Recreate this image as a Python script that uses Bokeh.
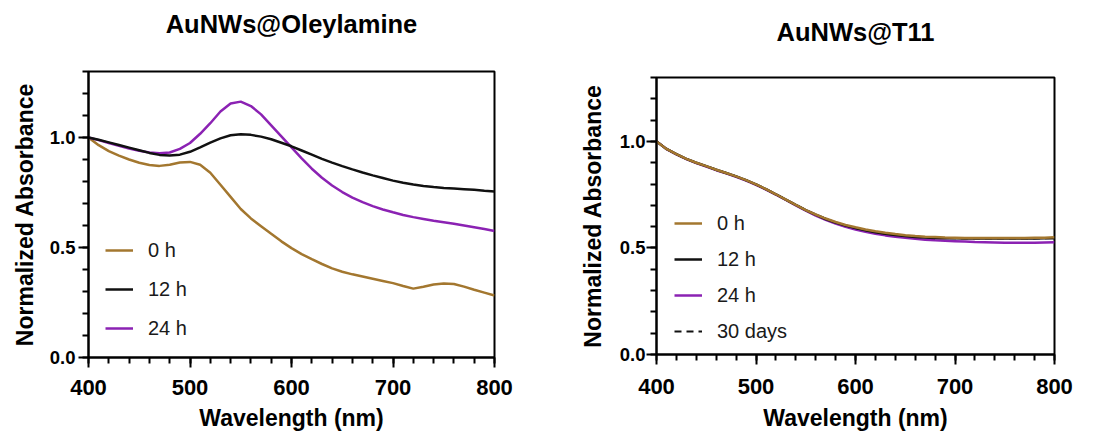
from bokeh.plotting import figure
from bokeh.layouts import row, column
from bokeh.models import (Legend, LegendItem, Range1d, FixedTicker, PrintfTickFormatter,
                          Title, LinearAxis)
from bokeh.embed import file_html
from bokeh.resources import INLINE

FONT = "Liberation Sans"
BROWN = "#A3772F"
PURPLE = "#8B22B3"
BLACK = "#111111"

# ---------------- data ----------------
wavelength = list(range(400, 801, 10))

# AuNWs@Oleylamine
ole_0h = [1.000, 0.965, 0.938, 0.918, 0.900, 0.885, 0.875, 0.871, 0.876, 0.886,
          0.889, 0.876, 0.840, 0.785, 0.730, 0.675, 0.632, 0.597, 0.562, 0.528,
          0.497, 0.470, 0.447, 0.425, 0.405, 0.390, 0.378, 0.368, 0.358, 0.348,
          0.338, 0.325, 0.313, 0.322, 0.332, 0.336, 0.334, 0.322, 0.308, 0.295,
          0.282]
ole_12h = [1.000, 0.990, 0.978, 0.966, 0.954, 0.942, 0.930, 0.921, 0.918, 0.922,
           0.935, 0.955, 0.977, 0.996, 1.010, 1.015, 1.012, 1.004, 0.992, 0.976,
           0.960, 0.941, 0.922, 0.903, 0.886, 0.870, 0.855, 0.841, 0.828, 0.816,
           0.804, 0.794, 0.786, 0.780, 0.775, 0.771, 0.768, 0.765, 0.762, 0.758,
           0.755]
ole_24h = [1.000, 0.988, 0.975, 0.962, 0.950, 0.940, 0.932, 0.928, 0.932, 0.948,
           0.975, 1.017, 1.065, 1.118, 1.155, 1.163, 1.143, 1.105, 1.055, 1.005,
           0.955, 0.905, 0.858, 0.817, 0.782, 0.752, 0.727, 0.706, 0.688, 0.673,
           0.660, 0.648, 0.638, 0.630, 0.622, 0.615, 0.608, 0.600, 0.592, 0.584,
           0.575]

# AuNWs@T11
t11_0h = [1.000, 0.965, 0.940, 0.918, 0.900, 0.884, 0.867, 0.852, 0.836, 0.818,
          0.798, 0.776, 0.752, 0.727, 0.702, 0.678, 0.657, 0.638, 0.622, 0.608,
          0.597, 0.587, 0.578, 0.571, 0.565, 0.560, 0.556, 0.553, 0.551, 0.549,
          0.548, 0.547, 0.547, 0.547, 0.547, 0.547, 0.547, 0.547, 0.548, 0.548,
          0.550]
t11_12h = [1.000, 0.965, 0.940, 0.918, 0.900, 0.884, 0.867, 0.852, 0.836, 0.818,
           0.798, 0.776, 0.752, 0.727, 0.702, 0.678, 0.656, 0.636, 0.619, 0.605,
           0.593, 0.583, 0.574, 0.567, 0.561, 0.556, 0.552, 0.549, 0.547, 0.546,
           0.545, 0.544, 0.544, 0.544, 0.544, 0.544, 0.544, 0.544, 0.544, 0.545,
           0.546]
t11_24h = [1.000, 0.964, 0.939, 0.917, 0.898, 0.882, 0.865, 0.850, 0.834, 0.816,
           0.796, 0.774, 0.750, 0.725, 0.700, 0.675, 0.652, 0.632, 0.614, 0.599,
           0.587, 0.576, 0.567, 0.559, 0.553, 0.548, 0.543, 0.539, 0.536, 0.534,
           0.532, 0.530, 0.528, 0.527, 0.526, 0.525, 0.525, 0.525, 0.525, 0.526,
           0.527]
t11_30d = [1.000, 0.965, 0.940, 0.918, 0.900, 0.884, 0.867, 0.852, 0.836, 0.818,
           0.798, 0.776, 0.752, 0.727, 0.702, 0.678, 0.656, 0.637, 0.620, 0.606,
           0.594, 0.584, 0.575, 0.568, 0.562, 0.557, 0.553, 0.550, 0.548, 0.547,
           0.546, 0.545, 0.545, 0.545, 0.545, 0.545, 0.545, 0.545, 0.545, 0.546,
           0.547]

x_major_ticks = [400, 500, 600, 700, 800]
x_minor_ticks = list(range(400, 801, 20))
y_major_ticks = [0.0, 0.5, 1.0]
y_minor_ticks = [0.0, 0.1, 0.2, 0.3, 0.4, 0.5, 0.6, 0.7, 0.8, 0.9, 1.0, 1.1, 1.2, 1.3]


def make_fig(title, width, height, mbl, mbr, mbt, mbb, title_gap, title_std,
             x_std, x_lab_std, y_std, y_lab_std):
    p = figure(width=width, height=height, output_backend="svg", toolbar_location=None,
               title=None,
               x_range=Range1d(400, 800), y_range=Range1d(0, 1.3),
               min_border_left=mbl, min_border_right=mbr,
               min_border_top=mbt, min_border_bottom=mbb)
    p.xgrid.visible = False
    p.ygrid.visible = False
    p.outline_line_color = "black"
    p.outline_line_width = 2
    p.outline_line_alpha = 1
    p.background_fill_color = "white"
    p.border_fill_color = "white"

    xa = p.below[0]
    ya = p.left[0]
    xa.ticker = FixedTicker(ticks=x_major_ticks, minor_ticks=x_minor_ticks)
    ya.ticker = FixedTicker(ticks=y_major_ticks, minor_ticks=y_minor_ticks)
    ya.formatter = PrintfTickFormatter(format="%.1f")
    xa.axis_label = "Wavelength (nm)"
    ya.axis_label = "Normalized Absorbance"
    for ax in (xa, ya):
        ax.axis_line_width = 2
        ax.axis_line_color = "black"
        ax.major_tick_line_width = 2
        ax.minor_tick_line_width = 2
        ax.major_tick_line_color = "black"
        ax.minor_tick_line_color = "black"
        ax.major_tick_out = 10
        ax.major_tick_in = 0
        ax.minor_tick_out = 6
        ax.minor_tick_in = 0
        ax.major_label_text_font = FONT
        ax.major_label_text_font_style = "bold"
        ax.major_label_text_color = "black"
        ax.axis_label_text_font = FONT
        ax.axis_label_text_font_style = "bold"
        ax.axis_label_text_font_size = "23px"
        ax.axis_label_text_color = "black"
    xa.major_label_text_font_size = "22px"
    ya.major_label_text_font_size = "18.5px"
    xa.major_label_standoff = x_std
    xa.axis_label_standoff = x_lab_std
    ya.major_label_standoff = y_std
    ya.axis_label_standoff = y_lab_std

    # invisible spacer between frame and title: ticks with no colour, empty labels
    spacer = LinearAxis(ticker=FixedTicker(ticks=x_major_ticks, minor_ticks=[]),
                        major_label_overrides={t: "" for t in x_major_ticks},
                        major_label_text_font_size="0px",
                        major_tick_out=title_gap, major_tick_in=0,
                        minor_tick_out=0, minor_tick_in=0,
                        major_label_standoff=0,
                        axis_line_color=None, major_tick_line_color=None,
                        minor_tick_line_color=None)
    p.add_layout(spacer, "above")
    t = Title(text=title, text_font=FONT, text_font_size="25.5px",
              text_font_style="bold", text_color="black", align="center",
              vertical_align="bottom", standoff=title_std)
    p.add_layout(t, "above")
    return p


def style_legend(leg, spacing):
    leg.label_text_font = FONT
    leg.label_text_font_size = "20px"
    leg.label_text_color = "#1a1a1a"
    leg.glyph_width = 28
    leg.glyph_height = 24
    leg.label_height = 24
    leg.label_standoff = 15
    leg.spacing = spacing
    leg.padding = 0
    leg.margin = 0
    leg.border_line_alpha = 0
    leg.background_fill_alpha = 0


# left figure: frame 406 x 286 at (88, 71)
p1 = make_fig("AuNWs@Oleylamine", 561, 433, 88, 67, 71, 76, 34, 0, 12, 7, 3, 9)
r0 = p1.line(wavelength, ole_0h, line_color=BROWN, line_width=2.5)
r24 = p1.line(wavelength, ole_24h, line_color=PURPLE, line_width=2.5)
r12 = p1.line(wavelength, ole_12h, line_color=BLACK, line_width=2.5)
leg1 = Legend(items=[LegendItem(label="0 h", renderers=[r0]),
                     LegendItem(label="12 h", renderers=[r12]),
                     LegendItem(label="24 h", renderers=[r24])],
              location=(17, 17))
style_legend(leg1, 15)
p1.add_layout(leg1)

# right figure: frame 398 x 277 at (656, 77)
p2 = make_fig("AuNWs@T11", 528, 433, 95, 35, 77, 79, 27, 10, 14, 8, 1, 11)
s24 = p2.line(wavelength, t11_24h, line_color=PURPLE, line_width=2.5)
s30 = p2.line(wavelength, t11_30d, line_color=BLACK, line_width=2, line_dash="7 5")
s12 = p2.line(wavelength, t11_12h, line_color=BLACK, line_width=2.5)
s0 = p2.line(wavelength, t11_0h, line_color=BROWN, line_width=2.5)
leg2 = Legend(items=[LegendItem(label="0 h", renderers=[s0]),
                     LegendItem(label="12 h", renderers=[s12]),
                     LegendItem(label="24 h", renderers=[s24]),
                     LegendItem(label="30 days", renderers=[s30])],
              location=(18, 11))
style_legend(leg2, 12)
p2.add_layout(leg2)

layout = row(column(p1), column(p2))
open("out.html", "w").write(file_html(layout, INLINE))
